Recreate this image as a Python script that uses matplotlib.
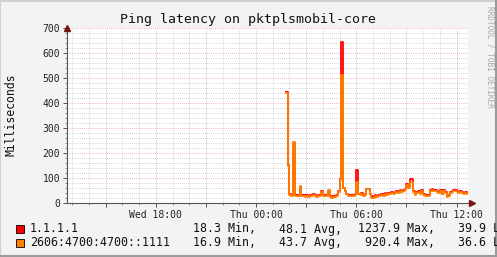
import datetime as dt
import numpy as np
import matplotlib.pyplot as plt
import matplotlib.dates as mdates
from matplotlib.lines import Line2D
from matplotlib.patches import Rectangle

title = "Ping latency on pktplsmobil-core"
ylabel = "Milliseconds"
names = ["1.1.1.1", "2606:4700:4700::1111"]
stats_min = [18.3, 16.9]
stats_avg = [48.1, 43.7]
stats_max = [1237.9, 920.4]
stats_last = [39.9, 36.6]

# samples every 6 minutes starting Thu 01:48
first_sample = dt.datetime(2024, 1, 4, 1, 48)
step_min = 6
view_start = dt.datetime(2024, 1, 3, 12, 41)
view_end = dt.datetime(2024, 1, 4, 12, 41)

v6 = [440, 150, 32, 30, 243, 30, 28, 30, 70, 28,
      27, 25, 28, 26, 30, 27, 33, 28, 26, 30,
      28, 45, 30, 27, 28, 52, 24, 22, 24, 23,
      28, 45, 92, 513, 60, 48, 35, 30, 28, 30,
      28, 32, 85, 35, 32, 38, 30, 33, 55, 58,
      35, 22, 20, 28, 25, 30, 28, 33, 30, 35,
      32, 38, 35, 40, 38, 42, 45, 40, 48, 45,
      50, 55, 72, 60, 85, 85, 45, 32, 40, 45,
      38, 48, 32, 30, 28, 30, 50, 52, 48, 50,
      45, 40, 48, 35, 50, 42, 25, 30, 40, 45,
      50, 48, 45, 42, 45, 40, 38, 40, 37]
v4 = [445, 152, 36, 34, 240, 34, 32, 34, 66, 32,
      31, 30, 32, 30, 34, 31, 36, 32, 30, 34,
      32, 48, 34, 31, 32, 50, 28, 27, 28, 27,
      32, 48, 95, 645, 62, 50, 38, 34, 32, 34,
      32, 36, 134, 38, 36, 42, 34, 37, 58, 56,
      38, 27, 25, 32, 30, 34, 32, 37, 35, 39,
      37, 42, 39, 44, 42, 46, 49, 44, 52, 49,
      54, 58, 75, 63, 98, 98, 48, 36, 44, 48,
      42, 52, 36, 34, 32, 34, 53, 55, 52, 53,
      48, 44, 51, 38, 53, 46, 30, 34, 44, 48,
      53, 52, 48, 45, 48, 44, 42, 43, 40]

times = [first_sample + dt.timedelta(minutes=step_min * i) for i in range(len(v6))]

fig = plt.figure(figsize=(4.97, 2.57), dpi=100, facecolor="#f3f3f3")
ax = fig.add_axes([67 / 497, 54 / 257, 401 / 497, 175 / 257])
ax.set_facecolor("white")

ax.plot(times, v4, drawstyle="steps-post", color="#ff0000", lw=1.3, zorder=3)
ax.plot(times, v6, drawstyle="steps-post", color="#ff8000", lw=1.3, zorder=4)

ax.set_xlim(view_start, view_end)
ax.set_ylim(0, 700)
ax.set_yticks(np.arange(0, 701, 100))
ax.set_yticks(np.arange(0, 701, 20), minor=True)

ax.xaxis.set_major_locator(mdates.HourLocator(byhour=range(0, 24, 3)))
ax.xaxis.set_minor_locator(mdates.HourLocator())


def xfmt(x, pos):
    d = mdates.num2date(x)
    return d.strftime("%a %H:%M") if d.hour % 6 == 0 else ""


ax.xaxis.set_major_formatter(plt.FuncFormatter(xfmt))

ax.grid(which="minor", color="#c8c8c8", lw=0.6, ls=(0, (1, 1.5)))
ax.grid(which="major", color="#e8a0a0", lw=0.6, ls=(0, (1, 1.5)))
ax.set_axisbelow(True)

for s in ["top", "right"]:
    ax.spines[s].set_visible(False)
for s in ["left", "bottom"]:
    ax.spines[s].set_color("#555555")
    ax.spines[s].set_linewidth(0.8)

ax.tick_params(which="major", length=3, width=0.7, color="#555555", pad=2,
               labelsize=7, labelcolor="#222222")
ax.tick_params(which="minor", length=1.5, width=0.6, color="#777777")
for lab in ax.get_xticklabels() + ax.get_yticklabels():
    lab.set_family("DejaVu Sans Mono")

# axis arrows
ax.plot([0], [1.0], marker="^", ms=4, color="#7a1515", transform=ax.transAxes,
        clip_on=False, zorder=6)
ax.plot([1.01], [0], marker=">", ms=4, color="#7a1515", transform=ax.transAxes,
        clip_on=False, zorder=6)

fig.text(248 / 497, 1 - 19 / 257, title, ha="center", va="center",
         family="DejaVu Sans Mono", fontsize=9.5, color="#111111")
fig.text(11 / 497, 1 - 115 / 257, ylabel, ha="center", va="center", rotation=90,
         family="DejaVu Sans Mono", fontsize=8.3, color="#111111")
fig.text(490 / 497, 1 - 6 / 257, "RRDTOOL / TOBI OETIKER", ha="center", va="top",
         rotation=270, family="DejaVu Sans Mono", fontsize=5.6, color="#a8a8a8")

# legend rows
colors = ["#ff0000", "#ff8000"]
row_y = [229, 242.5]
for i in range(2):
    yf = 1 - row_y[i] / 257
    fig.patches.append(Rectangle((16 / 497, yf - 4 / 257), 7.5 / 497, 8 / 257,
                                 transform=fig.transFigure, facecolor=colors[i],
                                 edgecolor="black", lw=0.6))
    fig.text(30 / 497, yf, names[i], ha="left", va="center",
             family="DejaVu Sans Mono", fontsize=8.4, color="#111111")
    fig.text(256 / 497, yf, f"{stats_min[i]:.1f} Min,", ha="right", va="center",
             family="DejaVu Sans Mono", fontsize=8.4, color="#111111")
    fig.text(342 / 497, yf, f"{stats_avg[i]:.1f} Avg,", ha="right", va="center",
             family="DejaVu Sans Mono", fontsize=8.4, color="#111111")
    fig.text(435 / 497, yf, f"{stats_max[i]:.1f} Max,", ha="right", va="center",
             family="DejaVu Sans Mono", fontsize=8.4, color="#111111")
    fig.text(521 / 497, yf, f"{stats_last[i]:.1f} Last", ha="right", va="center",
             family="DejaVu Sans Mono", fontsize=8.4, color="#111111")

# 3d frame around the image
fig.lines.append(Line2D([0, 1], [0.998, 0.998], transform=fig.transFigure,
                        color="#d0d0d0", lw=1.5))
fig.lines.append(Line2D([0.001, 0.001], [0, 1], transform=fig.transFigure,
                        color="#d0d0d0", lw=1.5))
fig.lines.append(Line2D([0.997, 0.997], [0, 1], transform=fig.transFigure,
                        color="#9a9a9a", lw=2.2))
fig.lines.append(Line2D([0, 1], [0.004, 0.004], transform=fig.transFigure,
                        color="#9a9a9a", lw=2.2))

fig.savefig("out.png", dpi=100, facecolor=fig.get_facecolor())
